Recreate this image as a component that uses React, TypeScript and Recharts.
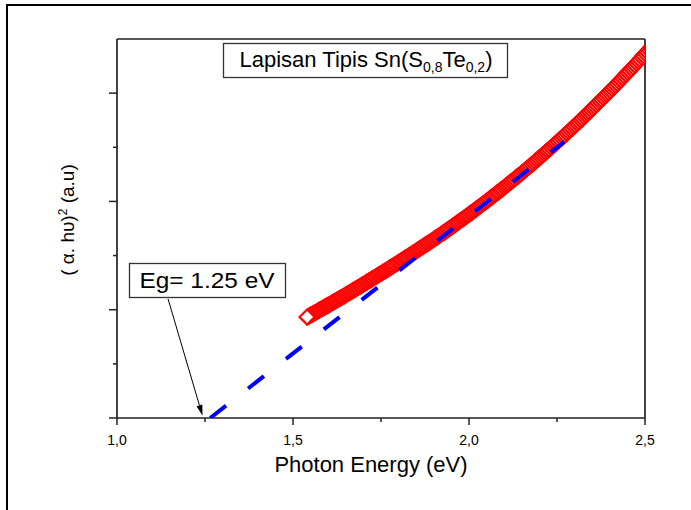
import React from "react";
import { ScatterChart, Scatter, XAxis, YAxis, ReferenceLine } from "recharts";

const FONT = "'Liberation Sans', Arial, sans-serif";

// photon energy (eV)
const energy = [
  1.54, 1.545, 1.55, 1.555, 1.56, 1.565, 1.57, 1.575, 1.58, 1.585, 1.59, 1.595, 1.6, 1.605, 1.61, 1.615,
  1.62, 1.625, 1.63, 1.635, 1.64, 1.645, 1.65, 1.655, 1.66, 1.665, 1.67, 1.675, 1.68, 1.685, 1.69, 1.695,
  1.7, 1.705, 1.71, 1.715, 1.72, 1.725, 1.73, 1.735, 1.74, 1.745, 1.75, 1.755, 1.76, 1.765, 1.77, 1.775,
  1.78, 1.785, 1.79, 1.795, 1.8, 1.805, 1.81, 1.815, 1.82, 1.825, 1.83, 1.835, 1.84, 1.845, 1.85, 1.855,
  1.86, 1.865, 1.87, 1.875, 1.88, 1.885, 1.89, 1.895, 1.9, 1.905, 1.91, 1.915, 1.92, 1.925, 1.93, 1.935,
  1.94, 1.945, 1.95, 1.955, 1.96, 1.965, 1.97, 1.975, 1.98, 1.985, 1.99, 1.995, 2.0, 2.005, 2.01, 2.015,
  2.02, 2.025, 2.03, 2.035, 2.04, 2.045, 2.05, 2.055, 2.06, 2.065, 2.07, 2.075, 2.08, 2.085, 2.09, 2.095,
  2.1, 2.105, 2.11, 2.115, 2.12, 2.125, 2.13, 2.135, 2.14, 2.145, 2.15, 2.155, 2.16, 2.165, 2.17, 2.175,
  2.18, 2.185, 2.19, 2.195, 2.2, 2.205, 2.21, 2.215, 2.22, 2.225, 2.23, 2.235, 2.24, 2.245, 2.25, 2.255,
  2.26, 2.265, 2.27, 2.275, 2.28, 2.285, 2.29, 2.295, 2.3, 2.305, 2.31, 2.315, 2.32, 2.325, 2.33, 2.335,
  2.34, 2.345, 2.35, 2.355, 2.36, 2.365, 2.37, 2.375, 2.38, 2.385, 2.39, 2.395, 2.4, 2.405, 2.41, 2.415,
  2.42, 2.425, 2.43, 2.435, 2.44, 2.445, 2.45, 2.455, 2.46, 2.465, 2.47, 2.475, 2.48, 2.485, 2.49, 2.495,
  2.5, 2.505, 2.51, 2.515, 2.52, 2.525, 2.53,
];
// (alpha h nu)^2, arbitrary units
const absorption = [
  0.932, 0.941, 0.95, 0.959, 0.968, 0.977, 0.987, 0.996, 1.005, 1.014, 1.024, 1.033, 1.042, 1.051, 1.061, 1.07,
  1.08, 1.089, 1.099, 1.108, 1.118, 1.127, 1.137, 1.147, 1.157, 1.166, 1.176, 1.186, 1.196, 1.205, 1.215, 1.225,
  1.235, 1.245, 1.255, 1.265, 1.275, 1.285, 1.295, 1.305, 1.315, 1.325, 1.335, 1.345, 1.355, 1.365, 1.376, 1.386,
  1.396, 1.406, 1.417, 1.427, 1.437, 1.447, 1.458, 1.468, 1.479, 1.489, 1.5, 1.51, 1.521, 1.531, 1.542, 1.553,
  1.564, 1.574, 1.585, 1.596, 1.607, 1.617, 1.628, 1.639, 1.65, 1.661, 1.672, 1.683, 1.695, 1.706, 1.717, 1.728,
  1.74, 1.751, 1.762, 1.774, 1.786, 1.797, 1.809, 1.821, 1.833, 1.844, 1.856, 1.868, 1.88, 1.892, 1.904, 1.916,
  1.929, 1.941, 1.953, 1.965, 1.978, 1.99, 2.002, 2.015, 2.028, 2.04, 2.053, 2.066, 2.079, 2.091, 2.104, 2.117,
  2.13, 2.143, 2.157, 2.17, 2.183, 2.196, 2.21, 2.223, 2.236, 2.249, 2.262, 2.276, 2.29, 2.304, 2.318, 2.332,
  2.346, 2.36, 2.374, 2.388, 2.402, 2.416, 2.431, 2.445, 2.46, 2.474, 2.489, 2.503, 2.518, 2.532, 2.547, 2.562,
  2.577, 2.592, 2.607, 2.622, 2.637, 2.652, 2.667, 2.682, 2.697, 2.713, 2.729, 2.744, 2.76, 2.776, 2.792, 2.807,
  2.823, 2.839, 2.855, 2.871, 2.888, 2.904, 2.92, 2.936, 2.953, 2.969, 2.985, 3.001, 3.017, 3.034, 3.051, 3.068,
  3.085, 3.102, 3.119, 3.136, 3.153, 3.17, 3.187, 3.204, 3.222, 3.239, 3.257, 3.274, 3.292, 3.309, 3.327, 3.344,
  3.362, 3.38, 3.398, 3.416, 3.434, 3.452, 3.47,
];

// linear extrapolation to the energy axis
const fitEnergy = [1.265, 2.27];
const fitValue = [0, 2.55];

// arrow of the Eg annotation (from box to intercept)
const arrowEnergy = [1.145, 1.243];
const arrowValue = [1.1, 0.02];

const xTicks = [1, 1.25, 1.5, 1.75, 2, 2.25, 2.5];
const xMajor = [1, 1.5, 2, 2.5];
const yTicks = [0, 0.5, 1, 1.5, 2, 2.5, 3];

// drawn high energy first so the lowest-energy marker sits on top
const measured = energy.map((x, i) => ({ x, y: absorption[i] })).reverse();
const fit = fitEnergy.map((x, i) => ({ x, y: fitValue[i] }));

const Diamond = (props: any) => {
  const { cx, cy } = props;
  const h = 7.5;
  return (
    <polygon
      points={`${cx - h},${cy} ${cx},${cy - h} ${cx + h},${cy} ${cx},${cy + h}`}
      fill="#fff"
      stroke="#ff0000"
      strokeWidth={2.2}
    />
  );
};

const XTick = (props: any) => {
  const { x, y, payload } = props;
  const v = payload.value;
  const major = xMajor.includes(v);
  return (
    <g>
      <line x1={x} y1={y} x2={x} y2={y + (major ? 7 : 4)} stroke="#222" strokeWidth={1.5} />
      {major && (
        <text x={x} y={y + 27} textAnchor="middle" fontSize={14} fill="#000" fontFamily={FONT}>
          {v.toFixed(1).replace(".", ",")}
        </text>
      )}
    </g>
  );
};

const YTick = (props: any) => {
  const { x, y, payload } = props;
  const major = Number.isInteger(payload.value);
  return <line x1={x - (major ? 8 : 4)} y1={y} x2={x} y2={y} stroke="#222" strokeWidth={1.5} />;
};

const Arrow = (props: any) => {
  const { x1, y1, x2, y2 } = props;
  const dx = x2 - x1;
  const dy = y2 - y1;
  const len = Math.sqrt(dx * dx + dy * dy);
  const ux = dx / len;
  const uy = dy / len;
  const bx = x2 - ux * 11;
  const by = y2 - uy * 11;
  return (
    <g>
      <line x1={x1} y1={y1} x2={bx} y2={by} stroke="#000" strokeWidth={1} />
      <polygon
        points={`${x2},${y2} ${bx - uy * 3},${by + ux * 3} ${bx + uy * 3},${by - ux * 3}`}
        fill="#000"
      />
    </g>
  );
};

const XLabel = () => (
  <text x={371} y={472} textAnchor="middle" fontSize={22} fill="#000" fontFamily={FONT}>
    Photon Energy (eV)
  </text>
);

const YLabel = () => (
  <text
    x={74}
    y={220}
    textAnchor="middle"
    transform="rotate(-90 74 220)"
    fontSize={19}
    fill="#000"
    fontFamily={FONT}
  >
    ( α. hυ)
    <tspan dy={-7} fontSize={12}>2</tspan>
    <tspan dy={7}> (a.u)</tspan>
  </text>
);

export default function App() {
  return (
    <div style={{ position: "absolute", left: 0, top: 0, width: 691, height: 510, background: "#fff" }}>
      <ScatterChart width={691} height={510} margin={{ top: 39, right: 46, bottom: 0, left: 0 }}>
        <XAxis
          dataKey="x"
          type="number"
          domain={[1, 2.5]}
          ticks={xTicks}
          interval={0}
          allowDataOverflow
          height={92}
          tickSize={0}
          tickMargin={0}
          tickLine={false}
          tick={<XTick />}
          axisLine={{ stroke: "#222", strokeWidth: 1.7 }}
          label={{ content: XLabel }}
        />
        <XAxis
          xAxisId="top"
          orientation="top"
          mirror
          dataKey="x"
          type="number"
          domain={[1, 2.5]}
          ticks={xTicks}
          interval={0}
          tick={false}
          tickSize={3}
          tickLine={{ stroke: "#444", strokeWidth: 1 }}
          axisLine={{ stroke: "#222", strokeWidth: 1.7 }}
        />
        <YAxis
          dataKey="y"
          type="number"
          domain={[0, 3.5]}
          ticks={yTicks}
          interval={0}
          allowDataOverflow
          width={117}
          tickSize={0}
          tickMargin={0}
          tickLine={false}
          tick={<YTick />}
          axisLine={{ stroke: "#222", strokeWidth: 1.7 }}
          label={{ content: YLabel }}
        />
        <YAxis
          yAxisId="right"
          orientation="right"
          mirror
          dataKey="y"
          type="number"
          domain={[0, 3.5]}
          ticks={yTicks}
          interval={0}
          tick={false}
          tickSize={2}
          tickLine={{ stroke: "#444", strokeWidth: 1 }}
          axisLine={{ stroke: "#222", strokeWidth: 1.7 }}
        />
        <Scatter data={measured} fill="#ff0000" shape={<Diamond />} isAnimationActive={false} />
        <Scatter
          data={fit}
          fill="#0000ff"
          line={{ stroke: "#0000ff", strokeWidth: 4, strokeDasharray: "20 28" }}
          lineType="joint"
          shape={() => <g />}
          isAnimationActive={false}
        />
        <ReferenceLine
          segment={[
            { x: arrowEnergy[0], y: arrowValue[0] },
            { x: arrowEnergy[1], y: arrowValue[1] },
          ]}
          shape={Arrow}
        />
      </ScatterChart>
      <svg
        width={691}
        height={510}
        style={{ position: "absolute", left: 0, top: 0, pointerEvents: "none" }}
      >
        <path d="M7,520 V5 H700" fill="none" stroke="#000" strokeWidth={2} />
        <rect x={223.5} y={43.5} width={284} height={34} fill="#fff" stroke="#333" strokeWidth={1.3} />
        <text x={366} y={67} textAnchor="middle" fontSize={22} fill="#000" fontFamily={FONT}>
          Lapisan Tipis Sn(S
          <tspan dy={5} fontSize={14}>0,8</tspan>
          <tspan dy={-5}>Te</tspan>
          <tspan dy={5} fontSize={14}>0,2</tspan>
          <tspan dy={-5}>)</tspan>
        </text>
        <rect x={129.5} y={263.5} width={156} height={34} fill="#fff" stroke="#333" strokeWidth={1.3} />
        <text
          x={207}
          y={288}
          textAnchor="middle"
          fontSize={22}
          textLength={135}
          lengthAdjust="spacingAndGlyphs"
          fill="#000"
          fontFamily={FONT}
        >
          Eg= 1.25 eV
        </text>
      </svg>
    </div>
  );
}
